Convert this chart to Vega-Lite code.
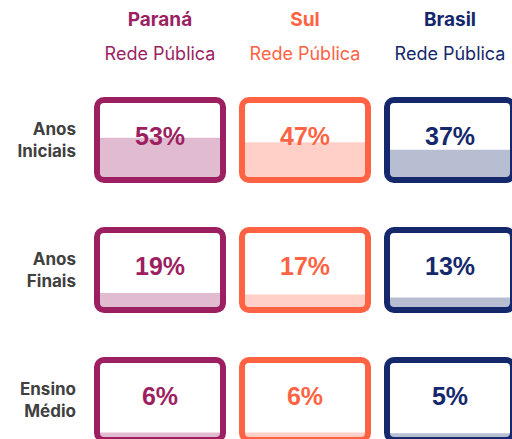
{
  "$schema": "https://vega.github.io/schema/vega-lite/v6.json",
  "background": "white",
  "autosize": {"type": "pad"},
  "padding": {"left": 16, "top": 10, "right": 0, "bottom": 0},
  "data": {
    "values": [
      {"regiao": "Paraná", "nivel": "Anos Iniciais", "valor": 0.53},
      {"regiao": "Sul", "nivel": "Anos Iniciais", "valor": 0.47},
      {"regiao": "Brasil", "nivel": "Anos Iniciais", "valor": 0.37},
      {"regiao": "Paraná", "nivel": "Anos Finais", "valor": 0.19},
      {"regiao": "Sul", "nivel": "Anos Finais", "valor": 0.17},
      {"regiao": "Brasil", "nivel": "Anos Finais", "valor": 0.13},
      {"regiao": "Paraná", "nivel": "Ensino Médio", "valor": 0.06},
      {"regiao": "Sul", "nivel": "Ensino Médio", "valor": 0.06},
      {"regiao": "Brasil", "nivel": "Ensino Médio", "valor": 0.05}
    ]
  },
  "facet": {
    "row": {
      "field": "nivel", "type": "nominal",
      "sort": ["Anos Iniciais", "Anos Finais", "Ensino Médio"],
      "title": null,
      "header": {"labels": false}
    },
    "column": {
      "field": "regiao", "type": "nominal",
      "sort": ["Paraná", "Sul", "Brasil"],
      "title": null,
      "header": {"labels": false}
    }
  },
  "spacing": {"row": 50, "column": 19},
  "bounds": "flush",
  "spec": {
    "width": 126,
    "height": 80,
    "layer": [
      {
        "mark": {"type": "rect", "fillOpacity": 0.3, "cornerRadiusBottomLeft": 4, "cornerRadiusBottomRight": 4},
        "encoding": {
          "x": {"value": 0},
          "x2": {"value": "width"},
          "y": {"field": "valor", "type": "quantitative", "scale": {"domain": [-0.04, 1.04], "nice": false, "zero": false}, "axis": null},
          "y2": {"datum": 0},
          "fill": {"field": "regiao", "type": "nominal", "scale": {"domain": ["Paraná", "Sul", "Brasil"], "range": ["#9C1F62", "#FF6344", "#15286B"]}, "legend": null}
        }
      },
      {
        "mark": {"type": "rect", "fill": null, "strokeWidth": 6, "cornerRadius": 7},
        "encoding": {
          "x": {"value": 0},
          "x2": {"value": "width"},
          "y": {"value": 0},
          "y2": {"value": "height"},
          "stroke": {"field": "regiao", "type": "nominal", "scale": {"domain": ["Paraná", "Sul", "Brasil"], "range": ["#9C1F62", "#FF6344", "#15286B"]}, "legend": null}
        }
      },
      {
        "mark": {"type": "text", "font": "Liberation Sans", "fontWeight": "bold", "fontSize": 25, "baseline": "middle", "dy": -3},
        "encoding": {
          "text": {"field": "valor", "type": "quantitative", "format": ".0%"},
          "fill": {"field": "regiao", "type": "nominal", "scale": {"domain": ["Paraná", "Sul", "Brasil"], "range": ["#9C1F62", "#FF6344", "#15286B"]}, "legend": null}
        }
      },
      {
        "transform": [
          {"filter": "datum.regiao == 'Paraná'"},
          {"calculate": "split(datum.nivel, ' ')", "as": "rotulo"}
        ],
        "mark": {"type": "text", "font": "Inter", "fontWeight": "bold", "fontSize": 17, "align": "right", "baseline": "alphabetic", "dx": -21, "dy": -5, "lineHeight": 22, "color": "#404040"},
        "encoding": {
          "x": {"value": 0},
          "text": {"field": "rotulo"}
        }
      },
      {
        "transform": [{"filter": "datum.nivel == 'Anos Iniciais'"}],
        "mark": {"type": "text", "font": "Inter", "fontWeight": "bold", "fontSize": 19, "baseline": "alphabetic", "dy": -74},
        "encoding": {
          "y": {"value": 0},
          "text": {"field": "regiao", "type": "nominal"},
          "fill": {"field": "regiao", "type": "nominal", "scale": {"domain": ["Paraná", "Sul", "Brasil"], "range": ["#9C1F62", "#FF6344", "#15286B"]}, "legend": null}
        }
      },
      {
        "transform": [{"filter": "datum.nivel == 'Anos Iniciais'"}],
        "mark": {"type": "text", "font": "Inter", "fontWeight": "normal", "fontSize": 18, "baseline": "alphabetic", "dy": -40},
        "encoding": {
          "y": {"value": 0},
          "text": {"value": "Rede Pública"},
          "fill": {"field": "regiao", "type": "nominal", "scale": {"domain": ["Paraná", "Sul", "Brasil"], "range": ["#9C1F62", "#FF6344", "#15286B"]}, "legend": null}
        }
      }
    ]
  }
}
